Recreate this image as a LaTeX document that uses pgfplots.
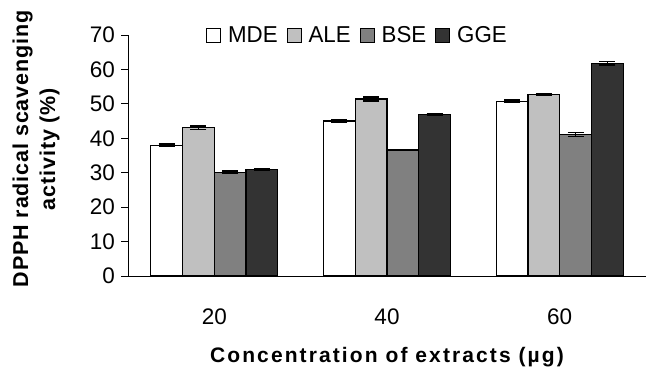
\documentclass[border=0pt]{standalone}
\usepackage{fontspec}
\setmainfont{Liberation Sans}
\newfontfamily\xlabfont[LetterSpace=10]{Liberation Sans}
\newfontfamily\ylabfont[LetterSpace=4]{Liberation Sans}
\newfontfamily\legfont[FakeStretch=0.97]{Liberation Sans}
\usepackage{pgfplots}
\pgfplotsset{compat=1.18}
\definecolor{cA}{HTML}{FFFFFF}
\definecolor{cB}{HTML}{C0C0C0}
\definecolor{cC}{HTML}{808080}
\definecolor{cD}{HTML}{333333}
\begin{document}
\begin{tikzpicture}
\begin{axis}[
  name=ax,
  scale only axis, width=518pt, height=241pt,
  xmin=-0.5, xmax=2.5, ymin=0, ymax=70,
  ybar=0pt, bar width=31.75pt,
  xtick={0,1,2}, xticklabels={20,40,60},
  ytick={0,10,...,70},
  axis x line*=bottom, axis y line*=left,
  axis line style={-, line width=0.9pt},
  x tick style={draw=none},
  y tick style={line width=0.9pt, black},
  tick align=outside, major tick length=6.5pt,
  tick label style={font=\fontsize{22.5}{24}\selectfont},
  /pgf/number format/assume math mode=true,
  xticklabel style={anchor=base, yshift=-42pt},
  yticklabel style={xshift=-3pt},
  xlabel={Concentration of extracts (µg)},
  xlabel style={at={(axis description cs:0.5,-0.357)}, anchor=base,
    font=\xlabfont\bfseries\fontsize{21}{24}\selectfont},
  ylabel={DPPH radical scavenging\\activity (\%)},
  ylabel style={at={(axis description cs:-0.1776,0.527)}, anchor=center, align=center,
    font=\ylabfont\bfseries\fontsize{21.5}{27}\selectfont},
  legend style={at={(axis description cs:0.443,1.0)}, anchor=center, draw=none, fill=none,
    legend columns=4, font=\legfont\fontsize{23}{25}\selectfont,
    inner sep=0pt,
    /tikz/every odd column/.append style={column sep=5pt},
    /tikz/every even column/.append style={column sep=7pt},
    nodes={inner sep=2pt}},
  legend image code/.code={\draw[#1, draw=black, line width=0.9pt] (0pt,-7pt) rectangle (14pt,7pt);},
  every axis plot/.append style={draw=black, line width=1.2pt},
  error bars/error bar style={line width=1.2pt, black},
  error bars/error mark options={rotate=90, mark size=8pt, line width=1.4pt, black},
]
\addplot[fill=cA, error bars/.cd, y dir=both, y explicit] coordinates {(0,38.0) +- (0,0.3) (1,45.0) +- (0,0.5) (2,50.8) +- (0,0.3)};
\addplot[fill=cB, error bars/.cd, y dir=both, y explicit] coordinates {(0,43.1) +- (0,0.5) (1,51.4) +- (0,0.6) (2,52.7) +- (0,0.2)};
\addplot[fill=cC, error bars/.cd, y dir=both, y explicit] coordinates {(0,30.1) +- (0,0.4) (1,36.6) +- (0,0.2) (2,41.1) +- (0,0.5)};
\addplot[fill=cD, error bars/.cd, y dir=both, y explicit] coordinates {(0,30.9) +- (0,0.2) (1,46.9) +- (0,0.2) (2,61.8) +- (0,0.5)};
\legend{MDE,ALE,BSE,GGE}
\end{axis}
\pgfresetboundingbox
\path[use as bounding box] ([xshift=-128pt,yshift=-91pt]ax.south west) rectangle ([yshift=35pt]ax.north east);
\end{tikzpicture}
\end{document}
